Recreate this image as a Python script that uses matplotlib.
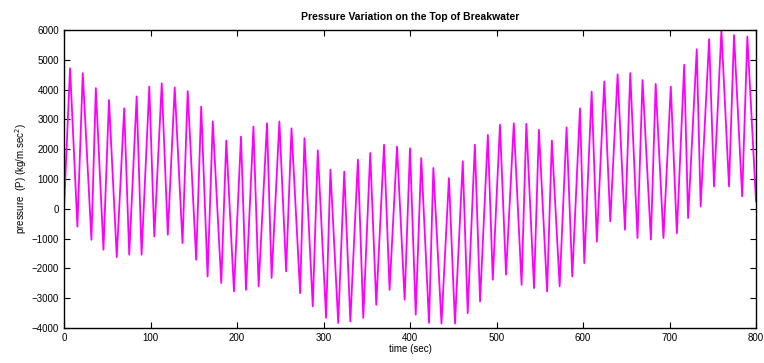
import matplotlib
matplotlib.use("Agg")
import matplotlib.pyplot as plt

time_sec = [0, 7, 15.5, 21.7, 31.7, 36.8, 45.6, 52, 61, 69.6, 75.4, 84, 89.7, 98.6,
            104.4, 113, 120, 128, 137, 143, 152.8, 158.6, 166, 172, 181.8, 187.6,
            196.5, 204.6, 210.4, 219, 225, 234.7, 240, 249, 256.8, 263, 273, 278,
            287.6, 293.4, 303, 308, 317, 324, 331, 339.8, 346, 354, 361, 370, 376.4,
            385, 393.8, 400, 406.6, 413, 422, 427, 436.4, 445, 452, 461, 466.7, 475,
            481, 490, 495.7, 504, 511, 520, 529, 534.5, 543.4, 549, 558.5, 564, 573,
            581, 587.6, 596.5, 601.5, 610, 616, 624.6, 631.5, 640, 648.5, 654.6, 663,
            668.8, 678.5, 684, 693, 701.5, 708.5, 717, 721.5, 731.5, 736, 745.8,
            751.5, 760, 768.8, 774.6, 784, 790, 800]
pressure = [0, 4715, -600, 4550, -1040, 4050, -1375, 3650, -1620, 3370, -1540, 3770,
            -1540, 4100, -930, 4210, -870, 4070, -1150, 3950, -1710, 3430, -2270, 2930,
            -2490, 2290, -2770, 2420, -2720, 2760, -2600, 2870, -2320, 2930, -2100,
            2700, -2830, 2370, -3270, 1960, -3660, 1310, -3830, 1250, -3780, 1650,
            -3660, 1870, -3220, 2150, -2720, 2090, -3050, 2030, -3550, 1700, -3830,
            1370, -3850, 1030, -3850, 1590, -3500, 2150, -3110, 2480, -2380, 2820,
            -2210, 2870, -2550, 2850, -2660, 2650, -2770, 2290, -2600, 2730, -2270,
            3370, -1820, 3930, -1100, 4270, -420, 4510, -700, 4550, -980, 4320, -1030,
            4190, -980, 4100, -820, 4830, -310, 5350, 80, 5690, 750, 5980, 750, 5830,
            420, 5780, 250]

x_ticks = [0, 100, 200, 300, 400, 500, 600, 700, 800]
y_ticks = [-4000, -3000, -2000, -1000, 0, 1000, 2000, 3000, 4000, 5000, 6000]

plt.rcParams['font.family'] = ['Liberation Sans Narrow', 'Liberation Sans', 'DejaVu Sans']

fig = plt.figure(figsize=(7.64, 3.63), dpi=100)
ax = fig.add_axes([64 / 764, 1 - 328 / 363, (756 - 64) / 764, (328 - 30) / 363])
ax.plot(time_sec, pressure, color='#ff00ff', linewidth=1.3)
ax.set_xlim(0, 800)
ax.set_ylim(-4000, 6000)
ax.set_xticks(x_ticks)
ax.set_yticks(y_ticks)
ax.tick_params(direction='in', top=True, right=True, labelsize=7, length=4, width=0.8)
for s in ax.spines.values():
    s.set_linewidth(1.0)
ax.set_title('Pressure Variation on the Top of Breakwater', fontsize=7.5,
             fontweight='bold', pad=7)
ax.set_xlabel('time (sec)', fontsize=7, labelpad=1)
ax.set_ylabel('pressure  (P) (kg/m.sec$^2$)', fontsize=7, labelpad=2)
fig.savefig('out.png', dpi=100)
